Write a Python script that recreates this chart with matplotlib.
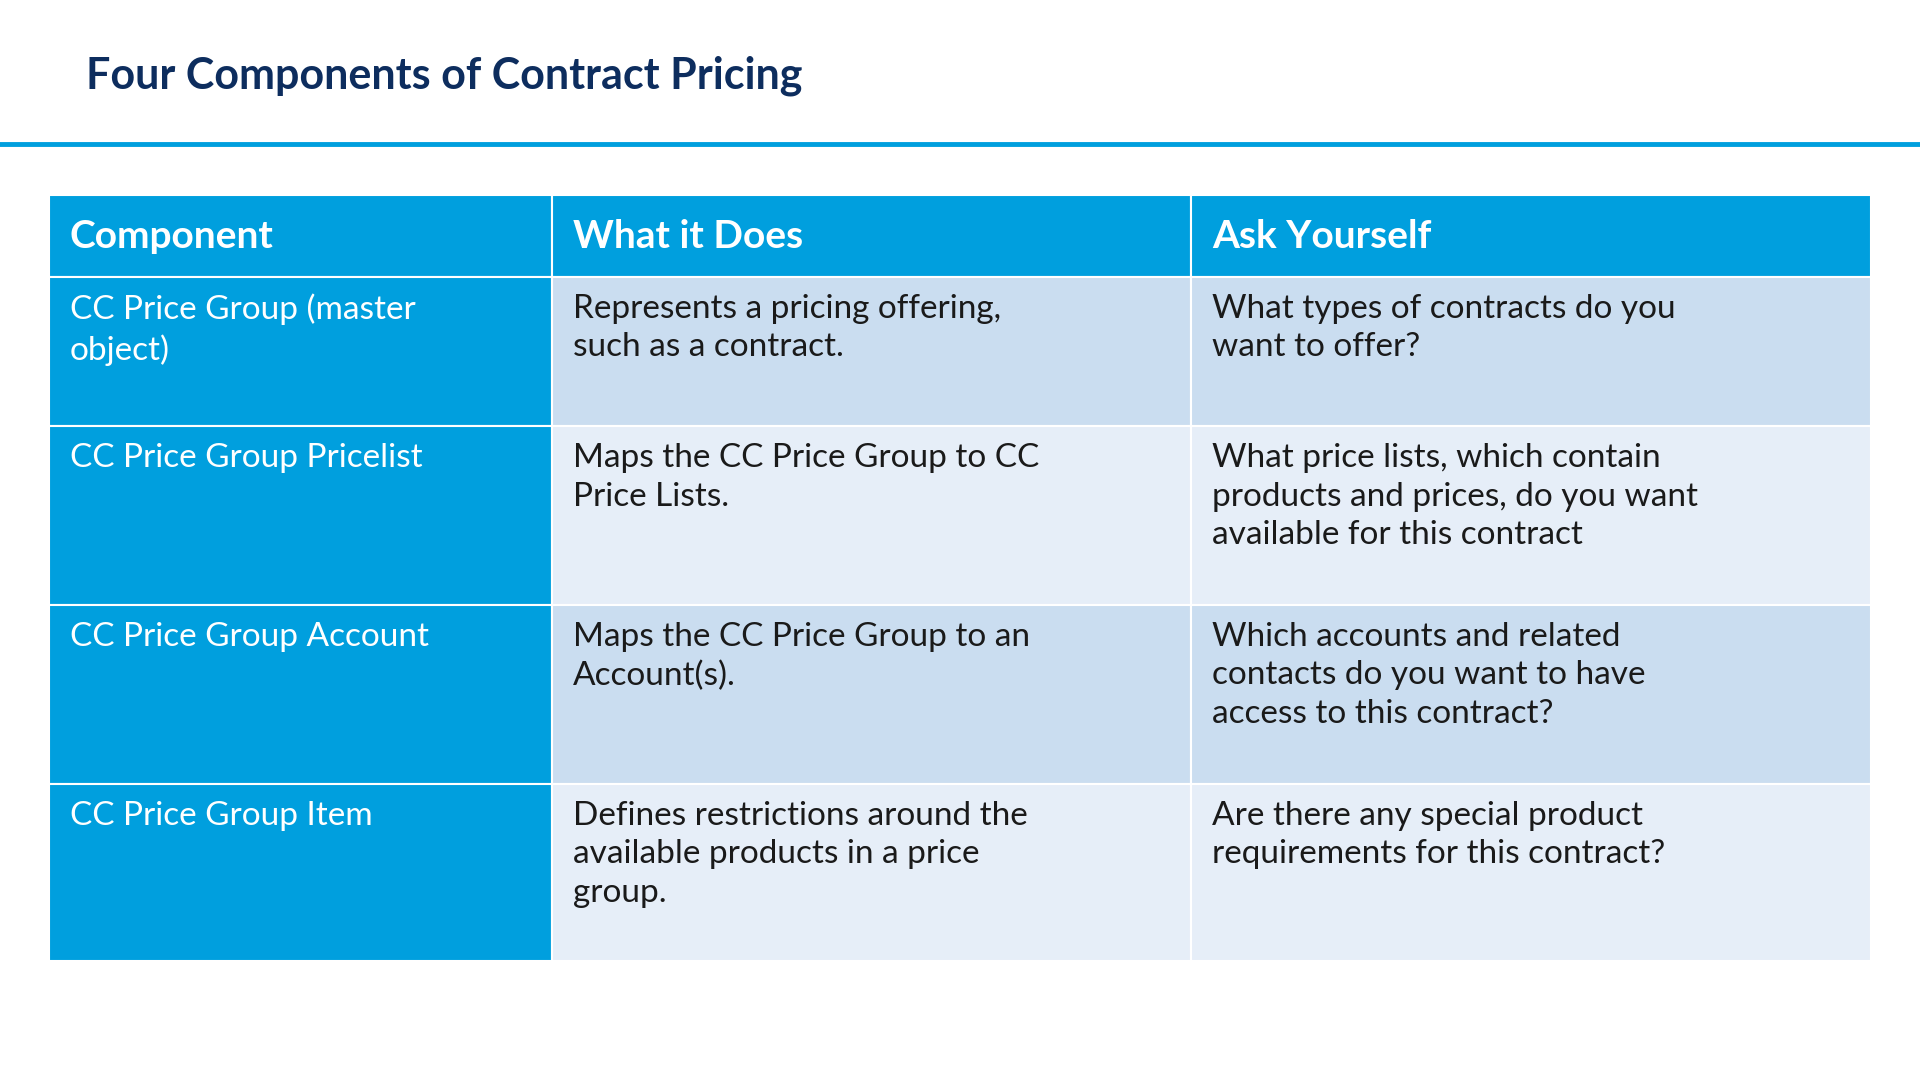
import matplotlib.pyplot as plt
from matplotlib.patches import Rectangle

plt.rcParams['font.family'] = ['Lato', 'DejaVu Sans']

title = "Four Components of Contract Pricing"
headers = ["Component", "What it Does", "Ask Yourself"]
components = ["CC Price Group (master\nobject)", "CC Price Group Pricelist",
              "CC Price Group Account", "CC Price Group Item"]
what_it_does = ["Represents a pricing offering,\nsuch as a contract.",
                "Maps the CC Price Group to CC\nPrice Lists.",
                "Maps the CC Price Group to an\nAccount(s).",
                "Defines restrictions around the\navailable products in a price\ngroup."]
ask_yourself = ["What types of contracts do you\nwant to offer?",
                "What price lists, which contain\nproducts and prices, do you want\navailable for this contract",
                "Which accounts and related\ncontacts do you want to have\naccess to this contract?",
                "Are there any special product\nrequirements for this contract?"]

# layout in reference pixel units (1568 x 882)
W, H = 1568, 882
col_x = [40, 451, 973, 1528]
row_y = [159, 226, 348, 494, 640, 785]
blue = '#009FDE'
navy = '#0D2D5E'
row_colors = ['#CADDF0', '#E6EEF8']

fig = plt.figure(figsize=(19.2, 10.8), dpi=100)
ax = fig.add_axes([0, 0, 1, 1])
ax.set_xlim(0, W)
ax.set_ylim(H, 0)
ax.axis('off')

ax.text(70, 62, title, fontsize=31, fontweight='bold', color=navy, va='center')
ax.plot([0, W], [118, 118], color=blue, lw=3.5)

# header
for c, h in enumerate(headers):
    ax.add_patch(Rectangle((col_x[c], row_y[0]), col_x[c+1]-col_x[c], row_y[1]-row_y[0],
                           facecolor=blue, edgecolor='white', lw=1.5))
    ax.text(col_x[c] + 17, (row_y[0]+row_y[1])/2 + 1, h, fontsize=28, fontweight='bold',
            color='white', va='center')

cols = [components, what_it_does, ask_yourself]
for r in range(len(components)):
    for c in range(3):
        fc = blue if c == 0 else row_colors[r % 2]
        ax.add_patch(Rectangle((col_x[c], row_y[r+1]), col_x[c+1]-col_x[c], row_y[r+2]-row_y[r+1],
                               facecolor=fc, edgecolor='white', lw=1.5))
        ax.text(col_x[c] + 17, row_y[r+1] + 14, cols[c][r], fontsize=24,
                color='white' if c == 0 else '#1a1a1a', va='top', linespacing=1.35)

fig.savefig('out.png', dpi=100)
